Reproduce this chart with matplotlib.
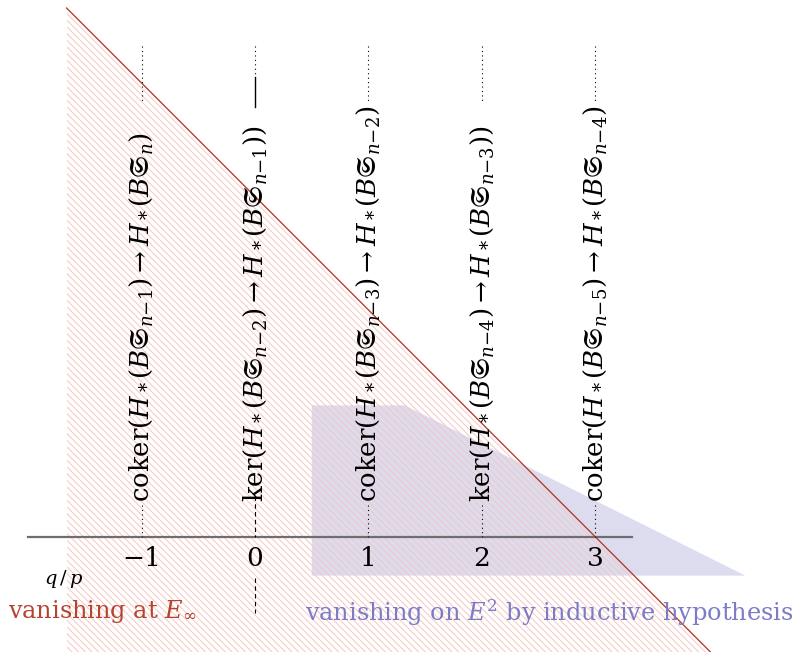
import matplotlib.pyplot as plt
from matplotlib.patches import Polygon

plt.rcParams["mathtext.fontset"] = "dejavuserif"
plt.rcParams["font.family"] = ["DejaVu Serif"]
plt.rcParams["hatch.linewidth"] = 0.7

# ==========================
# DATA
# ==========================
cols_p = [-1, 0, 1, 2, 3]
tick_labels = ["\u22121", "0", "1", "2", "3"]
col_labels = [
    r"$\mathrm{coker}(H_*(B\mathfrak{S}_{n{-}1})\rightarrow H_*(B\mathfrak{S}_{n})$",
    r"$\mathrm{ker}(H_*(B\mathfrak{S}_{n{-}2})\rightarrow H_*(B\mathfrak{S}_{n{-}1}))$",
    r"$\mathrm{coker}(H_*(B\mathfrak{S}_{n{-}3})\rightarrow H_*(B\mathfrak{S}_{n{-}2})$",
    r"$\mathrm{ker}(H_*(B\mathfrak{S}_{n{-}4})\rightarrow H_*(B\mathfrak{S}_{n{-}3}))$",
    r"$\mathrm{coker}(H_*(B\mathfrak{S}_{n{-}5})\rightarrow H_*(B\mathfrak{S}_{n{-}4})$",
]

# vanishing at E_infinity (left of the q = 3 - p line)
diag_p = [-1.66, 4.02]
diag_q = [4.66, -1.02]
hatch_p = [-1.66, -1.66, 4.02]
hatch_q = [4.66, -1.02, -1.02]

# vanishing on E^2 region
blue_p = [0.50, 1.32, 4.32, 0.50]
blue_q = [1.16, 1.16, -0.34, -0.34]

RED = "#b5432f"
HATCH = "#f5c6c0"
BLUE_FILL = "#dcdcee"
BLUE_TXT = "#7b7bc6"

# ==========================
# PLOT
# ==========================
fig = plt.figure(figsize=(7.96, 6.52), dpi=100)
ax = fig.add_axes([0, 0, 1, 1])
ax.set_xlim(-2.247, 4.767)
ax.set_ylim(-1.013, 4.731)
ax.axis("off")

ax.add_patch(Polygon(list(zip(blue_p, blue_q)), closed=True,
                     facecolor=BLUE_FILL, edgecolor="none", zorder=1))
ax.add_patch(Polygon(list(zip(hatch_p, hatch_q)), closed=True,
                     facecolor="none", edgecolor=HATCH, linewidth=0,
                     hatch="\\\\\\\\\\", zorder=2))
ax.plot(diag_p, diag_q, color=RED, lw=1.0, zorder=4)

# p axis
ax.plot([-2.0, 3.32], [0, 0], color="#6e6e72", lw=1.6, zorder=3)

for p, lab, tl in zip(cols_p, col_labels, tick_labels):
    ax.text(p, 0.31, lab, rotation=90, ha="center", va="bottom",
            fontsize=18.7, zorder=5)
    ax.text(p, -0.19, tl, ha="center", va="center", fontsize=19, zorder=5)
    if p == 0:
        ax.plot([p, p], [4.33, 4.07], color="black", lw=0.8, ls=(0, (1, 3)), zorder=5)
        ax.plot([p, p], [4.05, 3.79], color="black", lw=1.0, zorder=5)
        ax.plot([p, p], [0.36, 0.0], color="black", lw=0.8, ls=(0, (4, 3)), zorder=5)
        ax.plot([p, p], [-0.36, -0.67], color="black", lw=0.8, ls=(0, (4, 3)), zorder=5)
    else:
        ax.plot([p, p], [4.33, 3.82], color="black", lw=0.8, ls=(0, (1, 3)), zorder=5)
        ax.plot([p, p], [0.28, 0.0], color="black", lw=0.8, ls=(0, (1, 3)), zorder=5)

ax.text(-1.69, -0.37, r"$q\,/\,p$", fontsize=14, ha="center", va="center", zorder=5)
ax.text(-2.18, -0.66, r"vanishing at $E_\infty$", color=RED, fontsize=17.3,
        ha="left", va="center", zorder=5)
ax.text(0.44, -0.67, r"vanishing on $E^2$ by inductive hypothesis", color=BLUE_TXT,
        fontsize=17.3, ha="left", va="center", zorder=5)

fig.savefig("out.png", dpi=100)
